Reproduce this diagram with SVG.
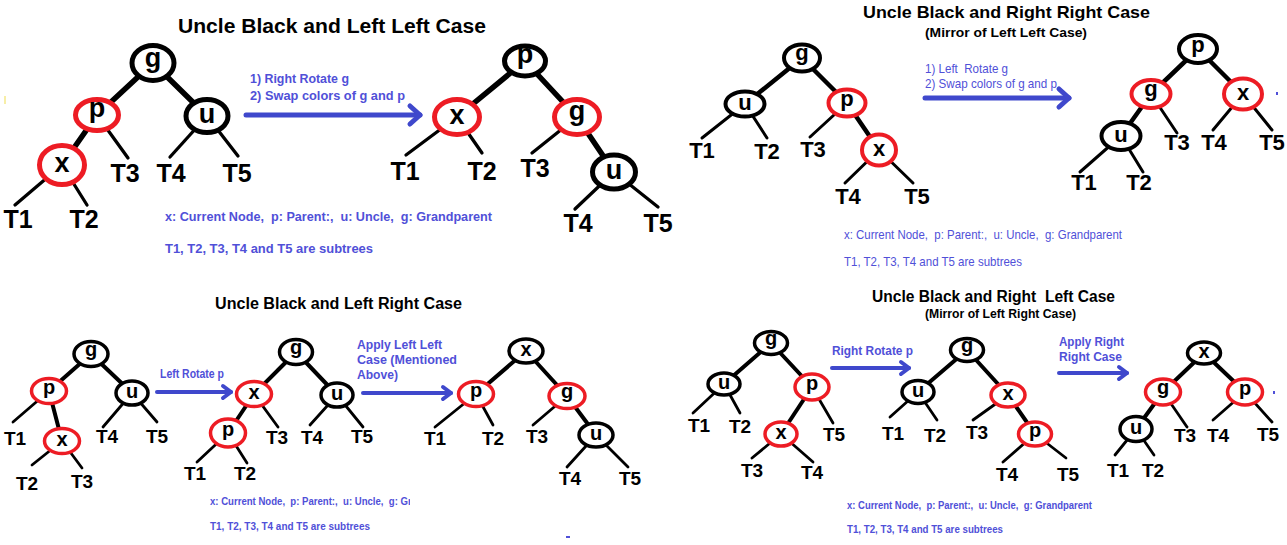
<svg xmlns="http://www.w3.org/2000/svg" width="1287" height="545" viewBox="0 0 1287 545">
<style>
.bg{fill:#fff}
.nk{fill:#fff;stroke:#000}
.nr{fill:#fff;stroke:#ed1c24}
.sA{stroke-width:5}
.sB{stroke-width:4}
.sC{stroke-width:3.5}
.lbl{font-family:"Liberation Sans",Arial,sans-serif;font-weight:700;text-anchor:middle;fill:#000}
.fA{font-size:27px}
.fB{font-size:22px}
.fC{font-size:20px}
.tA{font-size:25px}
.tB{font-size:22px}
.tC{font-size:19px}
.e{stroke:#000;stroke-linecap:round;fill:none}
.eA{stroke-width:5.5}
.lA{stroke-width:3.3}
.eB{stroke-width:4.5}
.lB{stroke-width:3}
.eC{stroke-width:4}
.lC{stroke-width:2.8}
.arr{stroke:#3f48cc;fill:none;stroke-linecap:round}
.ttl{font-family:"Liberation Sans",Arial,sans-serif;font-weight:700;fill:#000}
.bt{font-family:"Liberation Sans",Arial,sans-serif;font-weight:700;fill:#5050d8}
.rg{font-weight:400}
</style>
<defs>
<marker id="ahL" markerUnits="userSpaceOnUse" markerWidth="18" markerHeight="26" refX="14" refY="12" orient="auto" overflow="visible">
<path d="M4,3 L14,12 L4,21" fill="none" stroke="#3f48cc" stroke-width="5" stroke-linecap="round" stroke-linejoin="round"/>
</marker>
<marker id="ahS" markerUnits="userSpaceOnUse" markerWidth="14" markerHeight="18" refX="11" refY="8" orient="auto" overflow="visible">
<path d="M3,2 L11,8 L3,14" fill="none" stroke="#3f48cc" stroke-width="4" stroke-linecap="round" stroke-linejoin="round"/>
</marker>
<clipPath id="clipBL"><rect x="0" y="480" width="410" height="40"/></clipPath>
</defs>
<rect class="bg" x="0" y="0" width="1287" height="545"/>

<g id="titles">
<text class="ttl" x="178" y="33" font-size="20" textLength="308" lengthAdjust="spacingAndGlyphs">Uncle Black and Left Left Case</text>
<text class="ttl" x="863" y="18" font-size="17" textLength="287" lengthAdjust="spacingAndGlyphs">Uncle Black and Right Right Case</text>
<text class="ttl" x="925" y="37" font-size="12.5" textLength="162" lengthAdjust="spacingAndGlyphs">(Mirror of Left Left Case)</text>
<text class="ttl" x="215" y="309" font-size="16" textLength="247" lengthAdjust="spacingAndGlyphs">Uncle Black and Left Right Case</text>
<text class="ttl" x="872" y="302" font-size="16" textLength="243" lengthAdjust="spacingAndGlyphs" xml:space="preserve">Uncle Black and Right  Left Case</text>
<text class="ttl" x="925" y="318" font-size="12" textLength="151" lengthAdjust="spacingAndGlyphs">(Mirror of Left Right Case)</text>
</g>

<g id="notes">
<text class="bt" x="250" y="83" font-size="13" textLength="99" lengthAdjust="spacingAndGlyphs">1) Right Rotate g</text>
<text class="bt" x="250" y="100" font-size="13" textLength="155" lengthAdjust="spacingAndGlyphs">2) Swap colors of g and p</text>
<text class="bt" x="165" y="221" font-size="12.5" textLength="327" lengthAdjust="spacingAndGlyphs" xml:space="preserve">x: Current Node,  p: Parent:,  u: Uncle,  g: Grandparent</text>
<text class="bt" x="165" y="253" font-size="12.5" textLength="208" lengthAdjust="spacingAndGlyphs">T1, T2, T3, T4 and T5 are subtrees</text>

<text class="bt rg" x="925" y="73" font-size="13" textLength="83" lengthAdjust="spacingAndGlyphs" xml:space="preserve">1) Left  Rotate g</text>
<text class="bt rg" x="925" y="88" font-size="13" textLength="132" lengthAdjust="spacingAndGlyphs">2) Swap colors of g and p</text>
<text class="bt rg" x="844" y="239" font-size="13" textLength="278" lengthAdjust="spacingAndGlyphs" xml:space="preserve">x: Current Node,  p: Parent:,  u: Uncle,  g: Grandparent</text>
<text class="bt rg" x="844" y="266" font-size="13" textLength="178" lengthAdjust="spacingAndGlyphs">T1, T2, T3, T4 and T5 are subtrees</text>

<text class="bt" x="160" y="378" font-size="12" textLength="64" lengthAdjust="spacingAndGlyphs">Left Rotate p</text>
<text class="bt" x="357" y="349" font-size="12.5" textLength="85" lengthAdjust="spacingAndGlyphs">Apply Left Left</text>
<text class="bt" x="357" y="364" font-size="12.5" textLength="100" lengthAdjust="spacingAndGlyphs">Case (Mentioned</text>
<text class="bt" x="357" y="379" font-size="12.5" textLength="41" lengthAdjust="spacingAndGlyphs">Above)</text>
<g clip-path="url(#clipBL)">
<text class="bt" x="210" y="505" font-size="10.5" textLength="248" lengthAdjust="spacingAndGlyphs" xml:space="preserve">x: Current Node,  p: Parent:,  u: Uncle,  g: Grandparent</text>
</g>
<text class="bt" x="210" y="530" font-size="10.5" textLength="160" lengthAdjust="spacingAndGlyphs">T1, T2, T3, T4 and T5 are subtrees</text>

<text class="bt" x="832" y="355" font-size="12.5" textLength="81" lengthAdjust="spacingAndGlyphs">Right Rotate p</text>
<text class="bt" x="1059" y="346" font-size="12.5" textLength="65" lengthAdjust="spacingAndGlyphs">Apply Right</text>
<text class="bt" x="1059" y="361" font-size="12.5" textLength="63" lengthAdjust="spacingAndGlyphs">Right Case</text>
<text class="bt" x="847" y="509" font-size="10.5" textLength="245" lengthAdjust="spacingAndGlyphs" xml:space="preserve">x: Current Node,  p: Parent:,  u: Uncle,  g: Grandparent</text>
<text class="bt" x="847" y="533" font-size="10.5" textLength="156" lengthAdjust="spacingAndGlyphs">T1, T2, T3, T4 and T5 are subtrees</text>
</g>

<g id="connectors">
<line class="arr" x1="246" y1="115" x2="420" y2="115" stroke-width="5" marker-end="url(#ahL)"/>
<line class="arr" x1="925" y1="98" x2="1069" y2="98" stroke-width="5" marker-end="url(#ahL)"/>
<line class="arr" x1="157" y1="392" x2="231" y2="392" stroke-width="4" marker-end="url(#ahS)"/>
<line class="arr" x1="363" y1="393" x2="451" y2="393" stroke-width="4" marker-end="url(#ahS)"/>
<line class="arr" x1="832" y1="368" x2="909" y2="368" stroke-width="4" marker-end="url(#ahS)"/>
<line class="arr" x1="1059" y1="373" x2="1127" y2="373" stroke-width="4" marker-end="url(#ahS)"/>
<line class="e eA" x1="153" y1="63" x2="97" y2="115"/>
<line class="e eA" x1="153" y1="63" x2="207" y2="116"/>
<line class="e eA" x1="97" y1="115" x2="62" y2="165"/>
<line class="e lA" x1="97" y1="115" x2="128" y2="158"/>
<line class="e lA" x1="207" y1="116" x2="170" y2="157"/>
<line class="e lA" x1="207" y1="116" x2="238" y2="156"/>
<line class="e lA" x1="62" y1="165" x2="15" y2="205"/>
<line class="e lA" x1="62" y1="165" x2="87" y2="205"/>
<line class="e eA" x1="525" y1="61" x2="457" y2="117"/>
<line class="e eA" x1="525" y1="61" x2="577" y2="117"/>
<line class="e eA" x1="577" y1="117" x2="614" y2="172"/>
<line class="e lA" x1="457" y1="117" x2="406" y2="155"/>
<line class="e lA" x1="457" y1="117" x2="482" y2="153"/>
<line class="e lA" x1="577" y1="117" x2="532" y2="153"/>
<line class="e lA" x1="614" y1="172" x2="575" y2="209"/>
<line class="e lA" x1="614" y1="172" x2="658" y2="207"/>
<line class="e eB" x1="802" y1="58" x2="745" y2="104"/>
<line class="e eB" x1="802" y1="58" x2="847" y2="103"/>
<line class="e eB" x1="847" y1="103" x2="879" y2="150"/>
<line class="e lB" x1="745" y1="104" x2="702" y2="138"/>
<line class="e lB" x1="745" y1="104" x2="767" y2="138"/>
<line class="e lB" x1="847" y1="103" x2="810" y2="137"/>
<line class="e lB" x1="879" y1="150" x2="845" y2="183"/>
<line class="e lB" x1="879" y1="150" x2="913" y2="183"/>
<line class="e eB" x1="1198" y1="49" x2="1151" y2="94"/>
<line class="e eB" x1="1198" y1="49" x2="1243" y2="94"/>
<line class="e eB" x1="1151" y1="94" x2="1121" y2="136"/>
<line class="e lB" x1="1151" y1="94" x2="1177" y2="133"/>
<line class="e lB" x1="1243" y1="94" x2="1213" y2="130"/>
<line class="e lB" x1="1243" y1="94" x2="1272" y2="130"/>
<line class="e lB" x1="1121" y1="136" x2="1080" y2="172"/>
<line class="e lB" x1="1121" y1="136" x2="1143" y2="172"/>
<line class="e eC" x1="91" y1="354" x2="49" y2="391"/>
<line class="e eC" x1="91" y1="354" x2="132" y2="393"/>
<line class="e eC" x1="49" y1="391" x2="62" y2="441"/>
<line class="e lC" x1="49" y1="391" x2="13" y2="422"/>
<line class="e lC" x1="132" y1="393" x2="103" y2="427"/>
<line class="e lC" x1="132" y1="393" x2="157" y2="422"/>
<line class="e lC" x1="62" y1="441" x2="32" y2="465"/>
<line class="e lC" x1="62" y1="441" x2="82" y2="468"/>
<line class="e eC" x1="296" y1="352" x2="254" y2="394"/>
<line class="e eC" x1="296" y1="352" x2="337" y2="395"/>
<line class="e eC" x1="254" y1="394" x2="228" y2="433"/>
<line class="e lC" x1="254" y1="394" x2="278" y2="427"/>
<line class="e lC" x1="337" y1="395" x2="310" y2="425"/>
<line class="e lC" x1="337" y1="395" x2="363" y2="427"/>
<line class="e lC" x1="228" y1="433" x2="197" y2="462"/>
<line class="e lC" x1="228" y1="433" x2="247" y2="463"/>
<line class="e eC" x1="526" y1="351" x2="476" y2="394"/>
<line class="e eC" x1="526" y1="351" x2="567" y2="396"/>
<line class="e eC" x1="567" y1="396" x2="596" y2="435"/>
<line class="e lC" x1="476" y1="394" x2="435" y2="427"/>
<line class="e lC" x1="476" y1="394" x2="493" y2="425"/>
<line class="e lC" x1="567" y1="396" x2="533" y2="425"/>
<line class="e lC" x1="596" y1="435" x2="567" y2="467"/>
<line class="e lC" x1="596" y1="435" x2="628" y2="467"/>
<line class="e eC" x1="771" y1="343" x2="724" y2="384"/>
<line class="e eC" x1="771" y1="343" x2="812" y2="387"/>
<line class="e eC" x1="812" y1="387" x2="781" y2="434"/>
<line class="e lC" x1="724" y1="384" x2="693" y2="413"/>
<line class="e lC" x1="724" y1="384" x2="740" y2="413"/>
<line class="e lC" x1="812" y1="387" x2="833" y2="423"/>
<line class="e lC" x1="781" y1="434" x2="752" y2="458"/>
<line class="e lC" x1="781" y1="434" x2="813" y2="462"/>
<line class="e eC" x1="967" y1="350" x2="918" y2="392"/>
<line class="e eC" x1="967" y1="350" x2="1008" y2="395"/>
<line class="e eC" x1="1008" y1="395" x2="1035" y2="434"/>
<line class="e lC" x1="918" y1="392" x2="890" y2="417"/>
<line class="e lC" x1="918" y1="392" x2="937" y2="420"/>
<line class="e lC" x1="1008" y1="395" x2="973" y2="420"/>
<line class="e lC" x1="1035" y1="434" x2="1003" y2="462"/>
<line class="e lC" x1="1035" y1="434" x2="1066" y2="458"/>
<line class="e eC" x1="1204" y1="353" x2="1163" y2="392"/>
<line class="e eC" x1="1204" y1="353" x2="1245" y2="392"/>
<line class="e eC" x1="1163" y1="392" x2="1136" y2="429"/>
<line class="e lC" x1="1163" y1="392" x2="1187" y2="427"/>
<line class="e lC" x1="1245" y1="392" x2="1213" y2="420"/>
<line class="e lC" x1="1245" y1="392" x2="1272" y2="422"/>
<line class="e lC" x1="1136" y1="429" x2="1115" y2="455"/>
<line class="e lC" x1="1136" y1="429" x2="1154" y2="455"/>
</g>

<g id="tl1-g"><ellipse class="nk sA" cx="153" cy="63" rx="21" ry="17.5"/><text class="lbl fA" x="153" y="67">g</text></g>
<g id="tl1-p"><ellipse class="nr sA" cx="97" cy="115" rx="21.5" ry="15.5"/><text class="lbl fA" x="97" y="117">p</text></g>
<g id="tl1-u"><ellipse class="nk sA" cx="207" cy="116" rx="21" ry="16.5"/><text class="lbl fA" x="207" y="123">u</text></g>
<g id="tl1-x"><ellipse class="nr sA" cx="62" cy="165" rx="22.5" ry="19.5"/><text class="lbl fA" x="62" y="172">x</text></g>
<g id="tl1-subtrees" class="lbl tA">
<text x="125" y="182">T3</text><text x="171" y="182">T4</text><text x="237" y="182">T5</text><text x="18" y="228">T1</text><text x="84" y="228">T2</text>
</g>

<g id="tl2-p"><ellipse class="nk sA" cx="525" cy="61" rx="20.5" ry="15"/><text class="lbl fA" x="525" y="63">p</text></g>
<g id="tl2-x"><ellipse class="nr sA" cx="457" cy="117" rx="22.5" ry="17.5"/><text class="lbl fA" x="457" y="124">x</text></g>
<g id="tl2-g"><ellipse class="nr sA" cx="577" cy="117" rx="22.5" ry="17.5"/><text class="lbl fA" x="577" y="120">g</text></g>
<g id="tl2-u"><ellipse class="nk sA" cx="614" cy="172" rx="21.5" ry="17"/><text class="lbl fA" x="614" y="179">u</text></g>
<g id="tl2-subtrees" class="lbl tA">
<text x="405" y="180">T1</text><text x="482" y="180">T2</text><text x="535" y="177">T3</text><text x="578" y="232">T4</text><text x="658" y="232">T5</text>
</g>

<g id="tr1-g"><ellipse class="nk sB" cx="802" cy="58" rx="18" ry="13.5"/><text class="lbl fB" x="802" y="60">g</text></g>
<g id="tr1-u"><ellipse class="nk sB" cx="745" cy="104" rx="19.5" ry="12.5"/><text class="lbl fB" x="745" y="110">u</text></g>
<g id="tr1-p"><ellipse class="nr sB" cx="847" cy="103" rx="18.5" ry="13.5"/><text class="lbl fB" x="847" y="106">p</text></g>
<g id="tr1-x"><ellipse class="nr sB" cx="879" cy="150" rx="17" ry="15.5"/><text class="lbl fB" x="879" y="156">x</text></g>
<g id="tr1-subtrees" class="lbl tB">
<text x="702" y="158">T1</text><text x="767" y="159">T2</text><text x="813" y="157">T3</text><text x="848" y="204">T4</text><text x="917" y="204">T5</text>
</g>

<g id="tr2-p"><ellipse class="nk sB" cx="1198" cy="49" rx="19" ry="14"/><text class="lbl fB" x="1198" y="52">p</text></g>
<g id="tr2-g"><ellipse class="nr sB" cx="1151" cy="94" rx="19.5" ry="14"/><text class="lbl fB" x="1151" y="96">g</text></g>
<g id="tr2-x"><ellipse class="nr sB" cx="1243" cy="94" rx="19" ry="15.5"/><text class="lbl fB" x="1243" y="100">x</text></g>
<g id="tr2-u"><ellipse class="nk sB" cx="1121" cy="136" rx="19.5" ry="14"/><text class="lbl fB" x="1121" y="142">u</text></g>
<g id="tr2-subtrees" class="lbl tB">
<text x="1177" y="150">T3</text><text x="1214" y="150">T4</text><text x="1272" y="150">T5</text><text x="1084" y="190">T1</text><text x="1139" y="190">T2</text>
</g>

<g id="bl1-g"><ellipse class="nk sC" cx="91" cy="354" rx="17" ry="12.5"/><text class="lbl fC" x="91" y="356">g</text></g>
<g id="bl1-p"><ellipse class="nr sC" cx="49" cy="391" rx="17.5" ry="12.5"/><text class="lbl fC" x="49" y="394">p</text></g>
<g id="bl1-u"><ellipse class="nk sC" cx="132" cy="393" rx="16" ry="12"/><text class="lbl fC" x="132" y="398">u</text></g>
<g id="bl1-x"><ellipse class="nr sC" cx="62" cy="441" rx="17.5" ry="12.5"/><text class="lbl fC" x="62" y="446">x</text></g>
<g id="bl1-subtrees" class="lbl tC">
<text x="15" y="445">T1</text><text x="107" y="443">T4</text><text x="157" y="443">T5</text><text x="27" y="490">T2</text><text x="82" y="488">T3</text>
</g>

<g id="bl2-g"><ellipse class="nk sC" cx="296" cy="352" rx="16.5" ry="12.5"/><text class="lbl fC" x="296" y="354">g</text></g>
<g id="bl2-x"><ellipse class="nr sC" cx="254" cy="394" rx="17.5" ry="12.5"/><text class="lbl fC" x="254" y="399">x</text></g>
<g id="bl2-u"><ellipse class="nk sC" cx="337" cy="395" rx="16" ry="12"/><text class="lbl fC" x="337" y="400">u</text></g>
<g id="bl2-p"><ellipse class="nr sC" cx="228" cy="433" rx="17.5" ry="14"/><text class="lbl fC" x="228" y="436">p</text></g>
<g id="bl2-subtrees" class="lbl tC">
<text x="277" y="444">T3</text><text x="312" y="444">T4</text><text x="362" y="443">T5</text><text x="195" y="480">T1</text><text x="245" y="480">T2</text>
</g>

<g id="bl3-x"><ellipse class="nk sC" cx="526" cy="351" rx="17" ry="12"/><text class="lbl fC" x="526" y="356">x</text></g>
<g id="bl3-p"><ellipse class="nr sC" cx="476" cy="394" rx="17.5" ry="12.5"/><text class="lbl fC" x="476" y="397">p</text></g>
<g id="bl3-g"><ellipse class="nr sC" cx="567" cy="396" rx="18" ry="12.5"/><text class="lbl fC" x="567" y="398">g</text></g>
<g id="bl3-u"><ellipse class="nk sC" cx="596" cy="435" rx="17" ry="12"/><text class="lbl fC" x="596" y="440">u</text></g>
<g id="bl3-subtrees" class="lbl tC">
<text x="435" y="445">T1</text><text x="493" y="445">T2</text><text x="537" y="443">T3</text><text x="570" y="485">T4</text><text x="630" y="485">T5</text>
</g>

<g id="br1-g"><ellipse class="nk sC" cx="771" cy="343" rx="16.5" ry="11.5"/><text class="lbl fC" x="771" y="345">g</text></g>
<g id="br1-u"><ellipse class="nk sC" cx="724" cy="384" rx="16" ry="11"/><text class="lbl fC" x="724" y="389">u</text></g>
<g id="br1-p"><ellipse class="nr sC" cx="812" cy="387" rx="17" ry="13"/><text class="lbl fC" x="812" y="390">p</text></g>
<g id="br1-x"><ellipse class="nr sC" cx="781" cy="434" rx="16" ry="12"/><text class="lbl fC" x="781" y="439">x</text></g>
<g id="br1-subtrees" class="lbl tC">
<text x="699" y="432">T1</text><text x="740" y="433">T2</text><text x="834" y="441">T5</text><text x="752" y="477">T3</text><text x="812" y="479">T4</text>
</g>

<g id="br2-g"><ellipse class="nk sC" cx="967" cy="350" rx="16.5" ry="11.5"/><text class="lbl fC" x="967" y="352">g</text></g>
<g id="br2-u"><ellipse class="nk sC" cx="918" cy="392" rx="16" ry="11.5"/><text class="lbl fC" x="918" y="397">u</text></g>
<g id="br2-x"><ellipse class="nr sC" cx="1008" cy="395" rx="17" ry="12"/><text class="lbl fC" x="1008" y="400">x</text></g>
<g id="br2-p"><ellipse class="nr sC" cx="1035" cy="434" rx="16.5" ry="12"/><text class="lbl fC" x="1035" y="437">p</text></g>
<g id="br2-subtrees" class="lbl tC">
<text x="893" y="440">T1</text><text x="935" y="442">T2</text><text x="977" y="439">T3</text><text x="1007" y="481">T4</text><text x="1068" y="481">T5</text>
</g>

<g id="br3-x"><ellipse class="nk sC" cx="1204" cy="353" rx="16.5" ry="11"/><text class="lbl fC" x="1204" y="358">x</text></g>
<g id="br3-g"><ellipse class="nr sC" cx="1163" cy="392" rx="17.5" ry="13"/><text class="lbl fC" x="1163" y="394">g</text></g>
<g id="br3-p"><ellipse class="nr sC" cx="1245" cy="392" rx="17.5" ry="13"/><text class="lbl fC" x="1245" y="395">p</text></g>
<g id="br3-u"><ellipse class="nk sC" cx="1136" cy="429" rx="16" ry="12.5"/><text class="lbl fC" x="1136" y="434">u</text></g>
<g id="br3-subtrees" class="lbl tC">
<text x="1185" y="442">T3</text><text x="1218" y="442">T4</text><text x="1268" y="441">T5</text><text x="1118" y="477">T1</text><text x="1153" y="477">T2</text>
</g>

<g id="specks">
<line x1="5" y1="96" x2="5" y2="104" stroke="#f5e98a" stroke-width="1.5"/>
<rect x="1276" y="92" width="2" height="3" fill="#5050d8"/>
<rect x="1273" y="391" width="2" height="3" fill="#5050d8"/>
<rect x="566" y="536" width="4" height="2" fill="#5050d8"/>
</g>
</svg>
